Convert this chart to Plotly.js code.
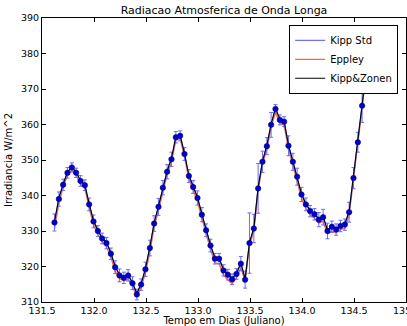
<!DOCTYPE html>
<html>
<head>
<meta charset="utf-8">
<script src="https://cdn.plot.ly/plotly-3.0.1.min.js"></script>
<style>html,body{margin:0;padding:0;background:#fff;overflow:hidden;}#chart{width:407px;height:326px;}</style>
</head>
<body>
<div id="chart"></div>
<script>
// Time in Julian days (hourly samples)
var days = [131.620, 131.662, 131.703, 131.745, 131.787, 131.828, 131.870, 131.912, 131.953, 131.995, 132.037, 132.078,
  132.120, 132.162, 132.203, 132.245, 132.287, 132.328, 132.370, 132.412, 132.453, 132.495, 132.537, 132.578,
  132.620, 132.662, 132.703, 132.745, 132.787, 132.828, 132.870, 132.912, 132.953, 132.995, 133.037, 133.078,
  133.120, 133.162, 133.203, 133.245, 133.287, 133.328, 133.370, 133.412, 133.453, 133.495, 133.537, 133.578,
  133.620, 133.662, 133.703, 133.745, 133.787, 133.828, 133.870, 133.912, 133.953, 133.995, 134.037, 134.078,
  134.120, 134.162, 134.203, 134.245, 134.287, 134.328, 134.370, 134.412, 134.453, 134.495, 134.537, 134.578,
  134.620];

var kippStd = [332.4, 339.0, 343.0, 346.4, 347.9, 346.4, 344.1, 342.9, 337.5, 332.7, 330.0, 327.9,
  326.6, 323.6, 319.8, 317.5, 316.8, 317.5, 315.3, 312.1, 314.9, 319.2, 325.2, 332.1,
  336.8, 342.2, 346.7, 350.2, 356.4, 356.8, 351.7, 345.5, 342.4, 339.3, 334.6, 330.2,
  325.9, 322.2, 322.2, 318.9, 317.7, 316.4, 317.9, 320.8, 316.3, 326.6, 330.7, 342.0,
  349.5, 353.9, 359.9, 364.4, 361.3, 360.8, 354.0, 349.5, 345.3, 340.3, 337.5, 335.6,
  334.7, 333.2, 333.9, 330.0, 331.2, 330.4, 331.4, 331.8, 335.3, 344.9, 355.0, 365.3,
  376.0];

var kippStdErr = [2.4, 2.0, 1.6, 1.5, 1.3, 1.3, 1.5, 1.5, 1.8, 1.8, 1.5, 1.5,
  1.6, 1.6, 1.8, 1.8, 1.6, 1.6, 1.8, 1.5, 1.6, 2.0, 2.2, 2.2,
  2.4, 2.0, 2.0, 2.0, 1.6, 1.4, 1.8, 1.8, 1.8, 2.0, 2.0, 1.8,
  1.8, 1.5, 1.5, 1.6, 1.5, 1.5, 1.5, 2.0, 2.4, 8.5, 4.0, 7.0,
  3.0, 2.4, 3.5, 1.2, 1.4, 1.4, 2.8, 2.4, 2.4, 2.0, 1.8, 1.6,
  1.6, 2.0, 2.2, 2.2, 1.6, 1.6, 1.6, 1.6, 2.8, 3.0, 2.8, 4.7,
  3.0];

var eppley = [330.6, 337.8, 342.3, 345.6, 347.2, 345.8, 343.3, 342.0, 336.6, 331.8, 329.0, 327.0,
  325.5, 322.6, 318.7, 316.6, 316.0, 316.4, 314.3, 311.6, 314.0, 318.2, 324.0, 331.0,
  335.8, 341.2, 345.8, 349.4, 355.6, 356.0, 350.8, 344.6, 341.3, 338.3, 333.6, 329.2,
  324.8, 321.0, 320.8, 317.6, 316.2, 315.2, 316.8, 319.6, 315.9, 326.0, 330.0, 341.2,
  348.7, 353.0, 359.1, 363.4, 360.4, 359.8, 353.0, 348.5, 344.3, 339.3, 336.4, 334.5,
  333.6, 332.2, 332.8, 329.1, 330.0, 329.5, 330.4, 330.8, 334.4, 344.1, 354.2, 364.6,
  375.4];

var kippZonen = [332.6, 339.3, 343.2, 346.7, 348.0, 346.6, 344.3, 343.0, 337.8, 332.9, 330.2, 328.1,
  326.8, 323.9, 320.1, 317.7, 317.0, 317.6, 315.5, 312.4, 315.2, 319.5, 325.5, 332.3,
  337.0, 342.4, 346.9, 350.5, 356.6, 357.0, 351.9, 345.7, 342.6, 339.5, 334.8, 330.4,
  326.1, 322.5, 322.4, 319.1, 318.0, 316.6, 318.1, 321.0, 316.5, 326.8, 330.9, 342.3,
  349.7, 354.1, 360.2, 364.6, 361.5, 361.0, 354.2, 349.7, 345.5, 340.5, 337.7, 335.8,
  334.9, 333.4, 334.1, 330.3, 331.4, 330.6, 331.6, 332.0, 335.5, 345.1, 355.2, 365.5,
  376.2];

var seriesNames = ['Kipp Std', 'Eppley', 'Kipp&Zonen'];
var titleText = 'Radiacao Atmosferica de Onda Longa';
var xTitle = 'Tempo em Dias (Juliano)';
var yTitle = 'Irradiancia W/m^2';
var lastTickLabel = '135.0';

var traces = [
  {x: days, y: eppley, type: 'scatter', mode: 'lines', name: seriesNames[1], legendrank: 2,
   line: {color: '#ff6633', width: 1.3}},
  {x: days, y: kippStd, type: 'scatter', mode: 'lines', name: seriesNames[0], legendrank: 1,
   line: {color: '#7070ff', width: 1.3},
   error_y: {type: 'data', array: kippStdErr, visible: true, color: '#6a6aff', thickness: 1, width: 2}},
  {x: days, y: kippZonen, type: 'scatter', mode: 'lines', name: seriesNames[2], legendrank: 3,
   line: {color: '#000000', width: 1.1}},
  {x: days, y: kippStd, type: 'scatter', mode: 'markers', showlegend: false, hoverinfo: 'skip',
   marker: {color: '#0000d0', size: 5.5, line: {color: '#000060', width: 0.5}}}
];

var axisCommon = {
  showgrid: false, zeroline: false, showline: true, linecolor: '#000', linewidth: 1,
  mirror: 'ticks', ticks: 'inside', ticklen: 4, tickcolor: '#000',
  tickfont: {family: 'DejaVu Sans, sans-serif', size: 9.5, color: '#000'}
};

var layout = {
  width: 407, height: 326,
  margin: {l: 42, r: 1, t: 18, b: 24, pad: 0},
  paper_bgcolor: '#fff', plot_bgcolor: '#fff',
  title: {text: titleText, x: 0.5, xref: 'paper', xanchor: 'center', y: 0.969, yref: 'container', yanchor: 'middle',
          font: {family: 'DejaVu Sans, sans-serif', size: 11, color: '#000'}},
  xaxis: Object.assign({}, axisCommon, {range: [131.5, 135], dtick: 0.5, tick0: 131.5, tickformat: '.1f',
          title: {text: xTitle, standoff: 2, font: {family: 'DejaVu Sans, sans-serif', size: 10, color: '#000'}}}),
  yaxis: Object.assign({}, axisCommon, {range: [310, 390], dtick: 10, tick0: 310,
          title: {text: yTitle, standoff: 6, font: {family: 'DejaVu Sans, sans-serif', size: 10, color: '#000'}}}),
  legend: {x: 0.679, y: 0.976, xanchor: 'left', yanchor: 'top', bgcolor: '#fff', bordercolor: '#000', borderwidth: 1,
           font: {family: 'DejaVu Sans, sans-serif', size: 10, color: '#000'}, tracegroupgap: 0},
  annotations: [{text: lastTickLabel, xref: 'x', x: 135, yref: 'paper', y: 0, yanchor: 'top', xanchor: 'center',
                 yshift: -1, showarrow: false, font: {family: 'DejaVu Sans, sans-serif', size: 9.5, color: '#000'}}],
  showlegend: true
};

Plotly.newPlot('chart', traces, layout, {displayModeBar: false, staticPlot: true});
</script>
</body>
</html>
